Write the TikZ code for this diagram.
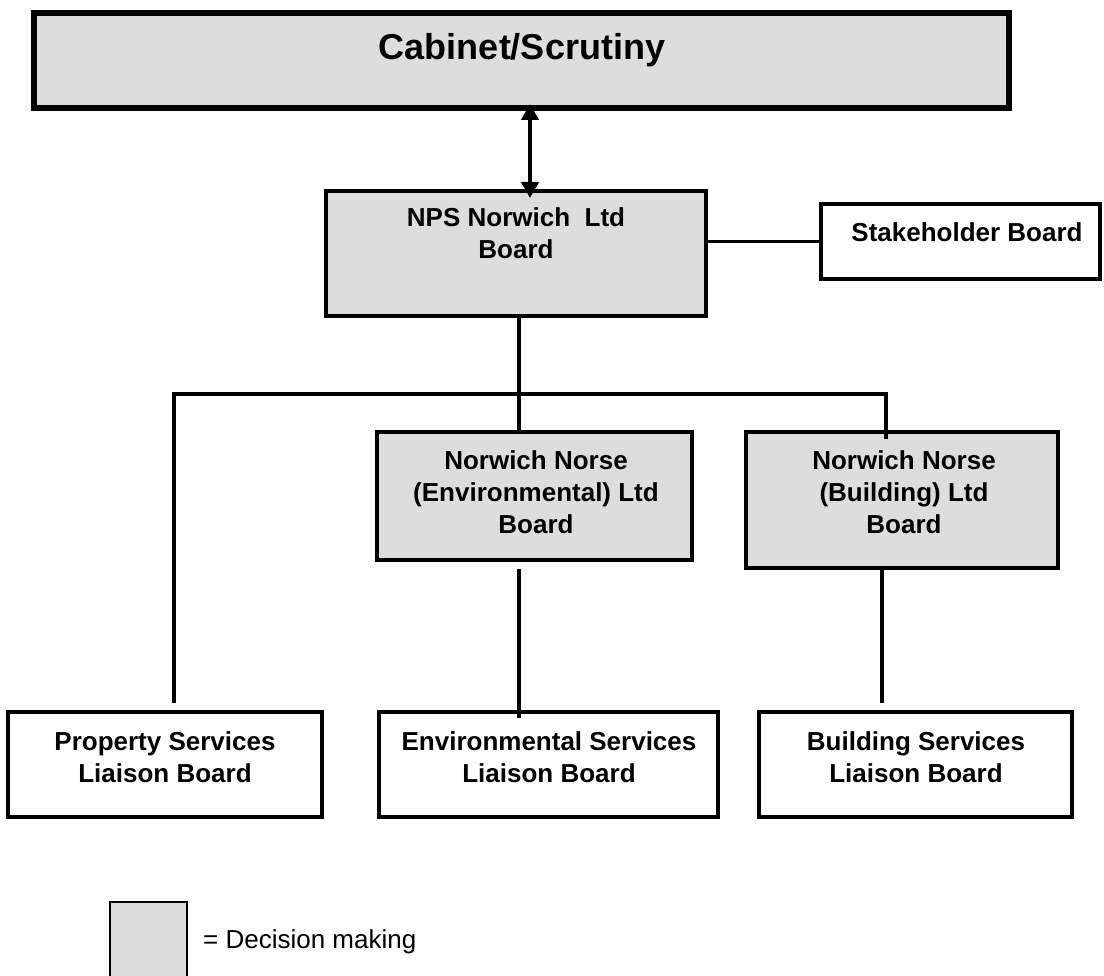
\documentclass[tikz,border=0pt]{standalone}
\usepackage{fontspec}
\setmainfont{Liberation Sans}
\usetikzlibrary{arrows.meta}
\definecolor{decgray}{RGB}{221,221,221}
\begin{document}
\begin{tikzpicture}[x=1pt,y=-1pt,
  box/.style={draw,line width=4pt,outer sep=0pt,inner sep=0pt,fill=white},
  decbox/.style={box,fill=decgray},
  conn/.style={line width=3.5pt},
  lbl/.style={font=\bfseries\fontsize{26}{32}\selectfont,align=center,inner sep=0pt},
  dblarrow/.style={line width=4pt,{Triangle[width=17pt,length=16pt]}-{Triangle[width=17pt,length=16pt]}}]
\path[use as bounding box,clip] (0,0) rectangle (1104,976);
% boxes
\node[decbox,line width=5.5pt,minimum width=975pt,minimum height=95pt] (cab) at (521.5,60.5) {};
\node[decbox,minimum width=380pt,minimum height=125pt] (nps) at (516,253.5) {};
\node[box,minimum width=279pt,minimum height=75pt] (stake) at (960.5,241.5) {};
\node[decbox,minimum width=315pt,minimum height=128pt] (env) at (534.5,496) {};
\node[decbox,minimum width=312pt,minimum height=136pt] (bldg) at (902,500) {};
\node[box,minimum width=314pt,minimum height=105pt] (prop) at (165,764.5) {};
\node[box,minimum width=339pt,minimum height=105pt] (envs) at (548.5,764.5) {};
\node[box,minimum width=313pt,minimum height=105pt] (bldgs) at (915.5,764.5) {};
\node[decbox,line width=2pt,minimum width=77pt,minimum height=98pt] (legbox) at (148.5,951) {};
% labels
\node[lbl,font=\bfseries\fontsize{36}{40}\selectfont] (cabt) at (522,50) {Cabinet/Scrutiny};
\node[lbl] (npst) at (516,233) {NPS Norwich\ \ Ltd\\Board};
\node[lbl] (staket) at (967,232) {Stakeholder Board};
\node[lbl] (envt) at (536,492) {Norwich Norse\\(Environmental) Ltd\\Board};
\node[lbl] (bldgt) at (904,492) {Norwich Norse\\(Building) Ltd\\Board};
\node[lbl] (propt) at (165,757) {Property Services\\Liaison Board};
\node[lbl] (envst) at (549,757) {Environmental Services\\Liaison Board};
\node[lbl] (bldgst) at (916,757) {Building Services\\Liaison Board};
\node[inner sep=0pt,anchor=west,font=\fontsize{26}{32}\selectfont] (legt) at (203,942) {= Decision making};
% connectors
\coordinate (ax) at (530,0);
\coordinate (cx) at (519,0);
\coordinate (rx) at (882,0);
\coordinate (bl) at (174,394);
\coordinate (br) at (886,394);
\draw[dblarrow,shorten <=-4pt,shorten >=-7pt] (cab.south -| ax) -- (nps.north -| ax);
\draw[conn] (nps.east |- stake.west) -- (stake.west);
\draw[conn] (nps.south -| cx) -- (env.north -| cx);
\draw[conn] ([yshift=9pt]prop.north -| bl) -- (bl) -- (br) -- ([yshift=-7pt]bldg.north -| br);
\draw[conn] ([yshift=-9pt]env.south -| cx) -- ([yshift=-6pt]envs.north -| cx);
\draw[conn] (bldg.south -| rx) -- ([yshift=9pt]bldgs.north -| rx);
\end{tikzpicture}
\end{document}
